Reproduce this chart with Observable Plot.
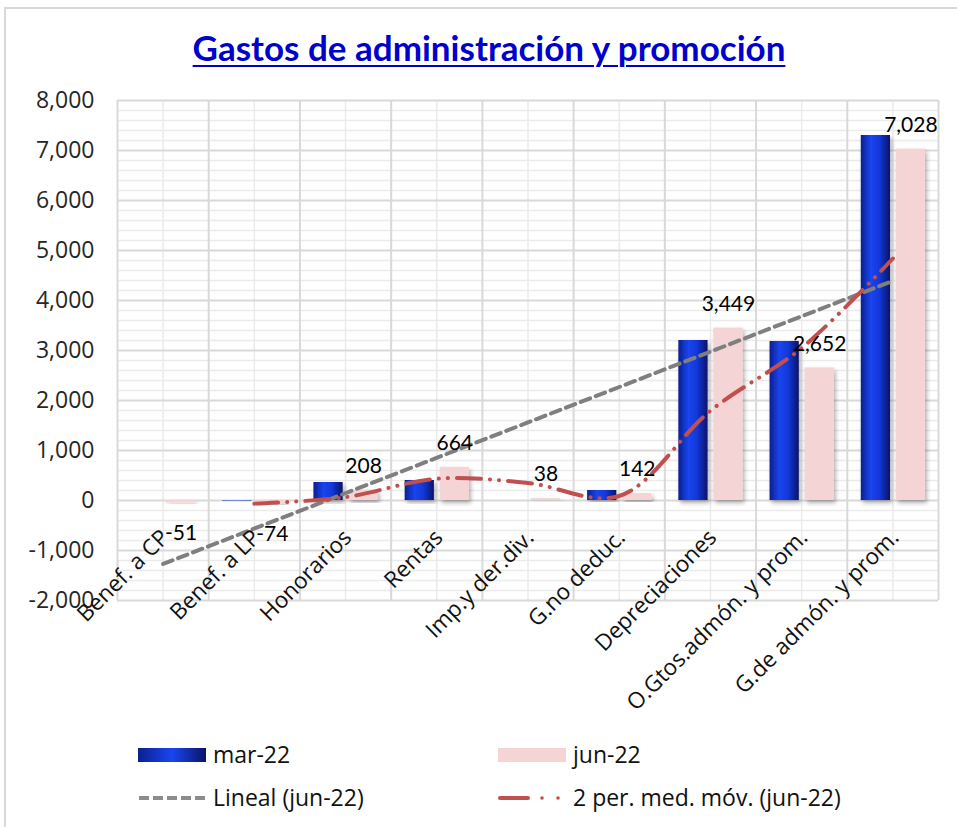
<!DOCTYPE html>
<html><head><meta charset="utf-8">
<script src="https://cdn.jsdelivr.net/npm/d3@7"></script>
<script src="https://cdn.jsdelivr.net/npm/@observablehq/plot@0.6"></script>
<style>
html,body{margin:0;padding:0;background:#fff;}
body{width:957px;height:827px;position:relative;overflow:hidden;font-family:Lato,"Open Sans",sans-serif;}
#frame{position:absolute;left:4px;top:7px;width:965px;height:840px;border:2px solid #d9d9d9;box-sizing:border-box;}
#title{position:absolute;left:0;top:26px;width:978px;text-align:center;font:bold 35px Lato,sans-serif;color:#0000cc;text-decoration:underline;text-decoration-thickness:2px;text-underline-offset:4px;}
#chart{position:absolute;left:0;top:80px;}
.lg{position:absolute;font:23px "Open Sans",sans-serif;color:#111;line-height:28px;white-space:nowrap;}
.sw{position:absolute;}
</style></head>
<body>
<div id="frame"></div>
<div id="title">Gastos de administración y promoción</div>
<div id="chart"></div>
<div id="legend"></div>
<script>
const categories = ["Benef. a CP","Benef. a LP","Honorarios","Rentas","Imp.y der.div.","G.no deduc.","Depreciaciones","O.Gtos.admón. y prom.","G.de admón. y prom."];
const mar22 = [0, -10, 360, 400, 0, 200, 3200, 3180, 7300];
const jun22 = [-51, -74, 208, 664, 38, 142, 3449, 2652, 7028];
const yTicks = [-2000, -1000, 0, 1000, 2000, 3000, 4000, 5000, 6000, 7000, 8000];
const yMinor = [-1800,-1600,-1400,-1200,-800,-600,-400,-200,200,400,600,800,1200,1400,1600,1800,2200,2400,2600,2800,3200,3400,3600,3800,4200,4400,4600,4800,5200,5400,5600,5800,6200,6400,6600,6800,7200,7400,7600,7800];
const seriesNames = ["mar-22","jun-22","Lineal (jun-22)","2 per. med. móv. (jun-22)"];

const fmt = v => v.toLocaleString("en-US");
const rows = categories.map((c, i) => ({cat: c, pos: i + 0.5, mar: mar22[i], jun: jun22[i]}));
const bounds = d3.range(0, categories.length + 1);

const plot = Plot.plot({
  width: 957,
  height: 630,
  marginTop: 20,
  marginBottom: 110,
  marginLeft: 117,
  marginRight: 19,
  style: {fontFamily: "'Open Sans', sans-serif", fontSize: "23px", color: "#262626", background: "transparent", overflow: "visible"},
  x: {domain: [0, categories.length], axis: null},
  y: {domain: [-2000, 8000], ticks: yTicks, tickFormat: fmt, tickSize: 0, tickPadding: 23, label: null},
  marks: [
    Plot.ruleY(yMinor, {stroke: "#ebebeb", strokeWidth: 1.5}),
    Plot.ruleX(rows, {x: "pos", stroke: "#ebebeb", strokeWidth: 1.5}),
    Plot.ruleY(yTicks, {stroke: "#d9d9d9", strokeWidth: 2}),
    Plot.ruleX(bounds, {stroke: "#d9d9d9", strokeWidth: 2}),
    Plot.rectY(rows, {x1: d => d.pos - 0.5, x2: d => d.pos + 0.5, y: "mar", fill: "url(#blueGrad)", insetLeft: 14, insetRight: 48, filter: d => d.mar !== 0}),
    Plot.rectY(rows, {x1: d => d.pos - 0.5, x2: d => d.pos + 0.5, y: "jun", fill: "#f4d4d5", insetLeft: 49, insetRight: 13}),
    Plot.linearRegressionY(rows, {x: "pos", y: "jun", ci: 0, stroke: "#7f7f7f", strokeWidth: 4, strokeDasharray: "10,6"}),
    Plot.lineY(rows, Plot.windowY({k: 2, anchor: "end", strict: true, reduce: "mean"}, {x: "pos", y: "jun", stroke: "#c0504d", strokeWidth: 4, strokeDasharray: "24,9,0.1,9,0.1,9", strokeLinecap: "round", curve: "catmull-rom"})),
    Plot.text(rows.filter(d => d.jun >= 0), {x: "pos", y: "jun", text: d => fmt(d.jun), dx: 18, dy: -24, fontSize: 21, fontFamily: "Lato, sans-serif", fill: "#000"}),
    Plot.text(rows.filter(d => d.jun < 0), {x: "pos", y: "jun", text: d => fmt(d.jun), dx: 18, dy: 30, fontSize: 21, fontFamily: "Lato, sans-serif", fill: "#000"}),
    Plot.text(rows, {x: "pos", y: d => 0, text: "cat", rotate: -45, textAnchor: "end", lineAnchor: "top", dx: -4, dy: 27, fontSize: 22.5, fontFamily: "'Open Sans', sans-serif", fill: "#111"})
  ]
});

const defs = d3.select(plot).insert("defs", ":first-child");
defs.html(`
<linearGradient id="blueGrad" x1="0" x2="1" y1="0" y2="0">
  <stop offset="0" stop-color="#0b2090"/>
  <stop offset="0.35" stop-color="#1a45f0"/>
  <stop offset="0.65" stop-color="#1236d6"/>
  <stop offset="1" stop-color="#0a1466"/>
</linearGradient>
<filter id="shadow" x="-20%" y="-20%" width="140%" height="140%">
  <feDropShadow dx="2" dy="3" stdDeviation="2" flood-color="#000" flood-opacity="0.3"/>
</filter>`);
d3.select(plot).selectAll("rect").attr("filter", "url(#shadow)");
document.getElementById("chart").appendChild(plot);

// legend
const lg = d3.select("#legend");
const items = [
  {name: seriesNames[0], x: 138, y: 755, kind: "blue"},
  {name: seriesNames[1], x: 498, y: 755, kind: "pink"},
  {name: seriesNames[2], x: 138, y: 798, kind: "gray"},
  {name: seriesNames[3], x: 498, y: 798, kind: "red"}
];
items.forEach(it => {
  const s = lg.append("svg").attr("class", "sw").style("left", it.x + "px").style("top", (it.y - 10) + "px").attr("width", 72).attr("height", 20);
  if (it.kind === "blue") {
    s.append("defs").html(`<linearGradient id="lgBlue" x1="0" x2="1"><stop offset="0" stop-color="#0b2090"/><stop offset="0.5" stop-color="#1a45f0"/><stop offset="1" stop-color="#0a1466"/></linearGradient>`);
    s.append("rect").attr("x", 0).attr("y", 3).attr("width", 68).attr("height", 14).attr("fill", "url(#lgBlue)");
  } else if (it.kind === "pink") {
    s.append("rect").attr("x", 0).attr("y", 3).attr("width", 68).attr("height", 14).attr("fill", "#f4d4d5");
  } else if (it.kind === "gray") {
    s.append("line").attr("x1", 1).attr("x2", 70).attr("y1", 10).attr("y2", 10).attr("stroke", "#8c8c8c").attr("stroke-width", 4).attr("stroke-dasharray", "10,4");
  } else {
    s.append("line").attr("x1", 2).attr("x2", 30).attr("y1", 10).attr("y2", 10).attr("stroke", "#c0504d").attr("stroke-width", 4).attr("stroke-linecap", "round");
    s.append("circle").attr("cx", 44).attr("cy", 10).attr("r", 1.8).attr("fill", "#c0504d");
    s.append("circle").attr("cx", 60).attr("cy", 10).attr("r", 1.8).attr("fill", "#c0504d");
  }
  lg.append("div").attr("class", "lg").style("left", (it.x + 75) + "px").style("top", (it.y - 15) + "px").text(it.name);
});
</script>
</body></html>
